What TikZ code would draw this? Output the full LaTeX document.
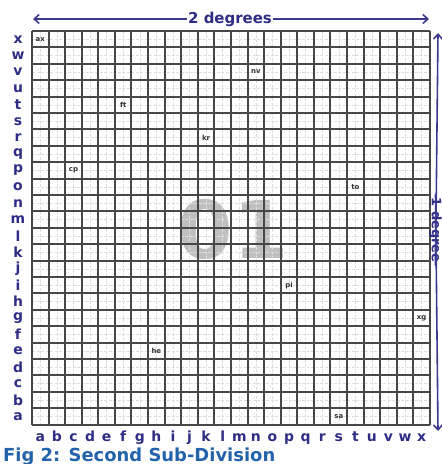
\documentclass[tikz,border=0pt]{standalone}
\usepackage{fontspec}
\setmainfont{DejaVu Sans}
\usetikzlibrary{arrows.meta}
\definecolor{lblue}{HTML}{2E2C85}
\definecolor{capblue}{HTML}{2363A9}
\definecolor{arrblue}{HTML}{3B3A8F}
\begin{document}
\begin{tikzpicture}[x=1bp,y=-1bp,
  axlab/.style={font=\bfseries\fontsize{14}{14}\selectfont, text=lblue, inner sep=0pt},
  celllab/.style={font=\bfseries\fontsize{7}{7}\selectfont, text=black!80, inner sep=0pt},
  dimlab/.style={font=\bfseries\fontsize{15}{15}\selectfont, text=lblue, inner sep=0.5pt},
  arr/.style={draw=arrblue, line width=1.6bp},
  gridmain/.style={draw=black!72, line width=1.5bp},
  gridsub/.style={draw=black!13, line width=0.5bp, dash pattern=on 3bp off 1.5bp}]
\useasboundingbox (0,0) rectangle (442,464);
\def\gl{32}\def\gt{31}\def\gr{430}\def\gb{425}
\def\cw{16.583}\def\ch{16.4}
% big watermark
\node[font=\bfseries\fontsize{80}{80}\selectfont, text=black!25, inner sep=0pt] (wm) at (233,229) {01};
% sub grid
\foreach \i in {0,...,23} {
  \draw[gridsub] (\gl+\i*\cw+0.5*\cw,\gt) -- (\gl+\i*\cw+0.5*\cw,\gb);
  \draw[gridsub] (\gl,\gt+\i*\ch+0.5*\ch) -- (\gr,\gt+\i*\ch+0.5*\ch);
}
% main grid (snapped to whole pixels)
\foreach \i in {0,...,24} {
  \pgfmathsetmacro{\xx}{round(\gl+\i*\cw)}
  \pgfmathsetmacro{\yy}{round(\gt+\i*\ch)}
  \draw[gridmain] (\xx,\gt) -- (\xx,\gb);
  \draw[gridmain] (\gl,\yy) -- (\gr,\yy);
}
% row labels
\foreach \r [count=\k from 0] in {x,w,v,u,t,s,r,q,p,o,n,m,l,k,j,i,h,g,f,e,d,c,b,a} {
  \node[axlab] (row-\r) at (18,\gt+\k*\ch+0.5*\ch) {\r};
}
% column labels
\foreach \c [count=\k from 0] in {a,b,c,d,e,f,g,h,i,j,k,l,m,n,o,p,q,r,s,t,u,v,w,x} {
  \node[axlab, anchor=base] (col-\c) at (\gl+\k*\cw+0.5*\cw,441) {\c};
}
% cell labels
\foreach \cx/\ry/\t in {0/0/ax,13/2/nv,5/4/ft,10/6/kr,2/8/cp,19/9/to,15/15/pi,23/17/xg,7/19/he,18/23/sa} {
  \node[celllab] (cell-\t) at (\gl+\cx*\cw+0.5*\cw,\gt+\ry*\ch+0.5*\ch) {\t};
}
% top dimension arrow
\coordinate (tl) at (33,19);
\coordinate (tr) at (429,19);
\node[dimlab] (deg2) at (230,19) {2 degrees};
\draw[arr, {Straight Barb[length=5bp,width=9bp]}-] (tl) -- (deg2.west);
\draw[arr, -{Straight Barb[length=5bp,width=9bp]}] (deg2.east) -- (tr);
% right dimension arrow
\coordinate (rt) at (438,33);
\coordinate (rb) at (438,431);
\node[dimlab, rotate=-90, font=\bfseries\fontsize{13}{13}\selectfont, inner sep=0pt] (deg1) at (435.5,230) {1 degree};
\draw[arr, {Straight Barb[length=5bp,width=9bp]}-] (rt) -- ([yshift=-3bp]deg1.east);
\draw[arr, -{Straight Barb[length=5bp,width=9bp]}] ([yshift=3bp]deg1.west) -- (rb);
% caption
\node[font=\bfseries\fontsize{18}{18}\selectfont, text=capblue, anchor=base west, inner sep=0pt] (cap) at (3,461) {Fig 2: Second Sub-Division};
\end{tikzpicture}
\end{document}
